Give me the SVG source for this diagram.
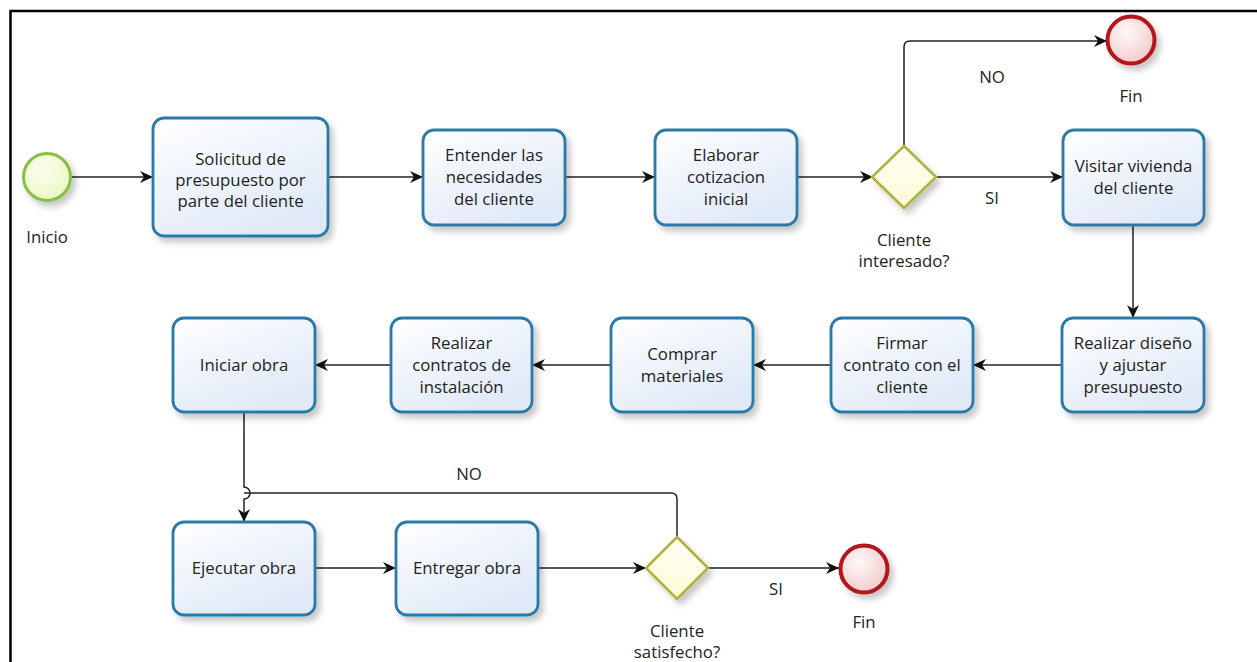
<svg xmlns="http://www.w3.org/2000/svg" width="1257" height="662" viewBox="0 0 1257 662">
<defs>
<linearGradient id="boxFill" x1="0" y1="0" x2="0.6" y2="1">
<stop offset="0" stop-color="#ffffff"/>
<stop offset="1" stop-color="#dfe9f7"/>
</linearGradient>
<radialGradient id="startFill" cx="0.4" cy="0.35" r="0.7">
<stop offset="0" stop-color="#fdffef"/>
<stop offset="1" stop-color="#eaf6c4"/>
</radialGradient>
<radialGradient id="endFill" cx="0.4" cy="0.35" r="0.7">
<stop offset="0" stop-color="#fff8f8"/>
<stop offset="1" stop-color="#f2c9c9"/>
</radialGradient>
<linearGradient id="gwFill" x1="0" y1="0" x2="0" y2="1">
<stop offset="0" stop-color="#fffff4"/>
<stop offset="1" stop-color="#fdfbd8"/>
</linearGradient>
<filter id="shadow" x="-20%" y="-20%" width="150%" height="150%">
<feDropShadow dx="4" dy="5" stdDeviation="3" flood-color="#000" flood-opacity="0.22"/>
</filter>
<marker id="arrow" markerUnits="userSpaceOnUse" markerWidth="14" markerHeight="12" refX="13" refY="6" orient="auto">
<path d="M0,0 L13,6 L0,12 L4,6 Z" fill="#111"/>
</marker>
<style>
.box{fill:url(#boxFill);stroke:#2a7aa9;stroke-width:2.8;filter:url(#shadow)}
.start{fill:url(#startFill);stroke:#86c043;stroke-width:3;filter:url(#shadow)}
.end{fill:url(#endFill);stroke:#b3151b;stroke-width:4;filter:url(#shadow)}
.gw{fill:url(#gwFill);stroke:#b1b03a;stroke-width:2.5;filter:url(#shadow)}
.t{font-family:"Open Sans","Noto Sans","DejaVu Sans",sans-serif;font-size:16.8px;fill:#222;text-anchor:middle}
.c{fill:none;stroke:#222;stroke-width:1.5}
.a{marker-end:url(#arrow)}
.frame{stroke:#000;stroke-width:2.5;fill:none}
</style>
</defs>
<rect width="1257" height="662" fill="#fff"/>
<path class="frame" d="M10.5,662 L10.5,11 L1257,11"/>

<g id="connectors">
<path class="c a" d="M71,177 L153,177"/>
<path class="c a" d="M328,177 L423,177"/>
<path class="c a" d="M565,177 L655,177"/>
<path class="c a" d="M797,177 L873,177"/>
<path class="c a" d="M936,177 L1063,177"/>
<path class="c a" d="M904,146 L904,47 Q904,41 910,41 L1107,41"/>
<path class="c a" d="M1133,225 L1133,318"/>
<path class="c a" d="M1062,365 L973,365"/>
<path class="c a" d="M831,365 L753,365"/>
<path class="c a" d="M611,365 L532,365"/>
<path class="c a" d="M391,365 L315,365"/>
<path class="c a" d="M244,412 L244,487 A6,6 0 0 1 244,499 L244,522"/>
<path class="c a" d="M315,568 L396,568"/>
<path class="c a" d="M538,568 L646,568"/>
<path class="c a" d="M708,568 L839,568"/>
<path class="c" d="M677,537 L677,499 Q677,493 671,493 L244,493"/>
<text class="t" x="992" y="83">NO</text>
<text class="t" x="992" y="204">SI</text>
<text class="t" x="469" y="480">NO</text>
<text class="t" x="776" y="595">SI</text>
</g>

<g id="inicio">
<circle class="start" cx="47" cy="177" r="23.5"/>
<text class="t" x="47" y="243">Inicio</text>
</g>

<g id="solicitud">
<rect class="box" x="153" y="118" width="175" height="118" rx="11"/>
<text class="t" x="240.5" y="165">Solicitud de</text>
<text class="t" x="240.5" y="186">presupuesto por</text>
<text class="t" x="240.5" y="207">parte del cliente</text>
</g>

<g id="entender">
<rect class="box" x="423" y="130" width="142" height="95" rx="11"/>
<text class="t" x="494" y="161">Entender las</text>
<text class="t" x="494" y="183">necesidades</text>
<text class="t" x="494" y="205">del cliente</text>
</g>

<g id="elaborar">
<rect class="box" x="655" y="130" width="142" height="95" rx="11"/>
<text class="t" x="726" y="161">Elaborar</text>
<text class="t" x="726" y="183">cotizacion</text>
<text class="t" x="726" y="205">inicial</text>
</g>

<g id="gw-interesado">
<path class="gw" d="M904,146 L936,177 L904,208 L872,177 Z"/>
<text class="t" x="904" y="246">Cliente</text>
<text class="t" x="904" y="267">interesado?</text>
</g>

<g id="fin1">
<circle class="end" cx="1131" cy="40" r="23.5"/>
<text class="t" x="1131" y="102">Fin</text>
</g>

<g id="visitar">
<rect class="box" x="1063" y="130" width="141" height="95" rx="11"/>
<text class="t" x="1133.5" y="172">Visitar vivienda</text>
<text class="t" x="1133.5" y="194">del cliente</text>
</g>

<g id="diseno">
<rect class="box" x="1062" y="318" width="142" height="94" rx="11"/>
<text class="t" x="1133" y="349">Realizar diseño</text>
<text class="t" x="1133" y="371">y ajustar</text>
<text class="t" x="1133" y="393">presupuesto</text>
</g>

<g id="firmar">
<rect class="box" x="831" y="318" width="142" height="94" rx="11"/>
<text class="t" x="902" y="349">Firmar</text>
<text class="t" x="902" y="371">contrato con el</text>
<text class="t" x="902" y="393">cliente</text>
</g>

<g id="comprar">
<rect class="box" x="611" y="318" width="142" height="94" rx="11"/>
<text class="t" x="682" y="360">Comprar</text>
<text class="t" x="682" y="382">materiales</text>
</g>

<g id="contratos">
<rect class="box" x="391" y="318" width="141" height="94" rx="11"/>
<text class="t" x="461.5" y="349">Realizar</text>
<text class="t" x="461.5" y="371">contratos de</text>
<text class="t" x="461.5" y="393">instalación</text>
</g>

<g id="iniciar">
<rect class="box" x="173" y="318" width="142" height="94" rx="11"/>
<text class="t" x="244" y="371">Iniciar obra</text>
</g>

<g id="ejecutar">
<rect class="box" x="173" y="522" width="142" height="93" rx="11"/>
<text class="t" x="244" y="574">Ejecutar obra</text>
</g>

<g id="entregar">
<rect class="box" x="396" y="522" width="142" height="93" rx="11"/>
<text class="t" x="467" y="574">Entregar obra</text>
</g>

<g id="gw-satisfecho">
<path class="gw" d="M677,537 L708,568 L677,599 L646,568 Z"/>
<text class="t" x="677" y="637">Cliente</text>
<text class="t" x="677" y="658">satisfecho?</text>
</g>

<g id="fin2">
<circle class="end" cx="864" cy="569" r="23.5"/>
<text class="t" x="864" y="628">Fin</text>
</g>
</svg>
